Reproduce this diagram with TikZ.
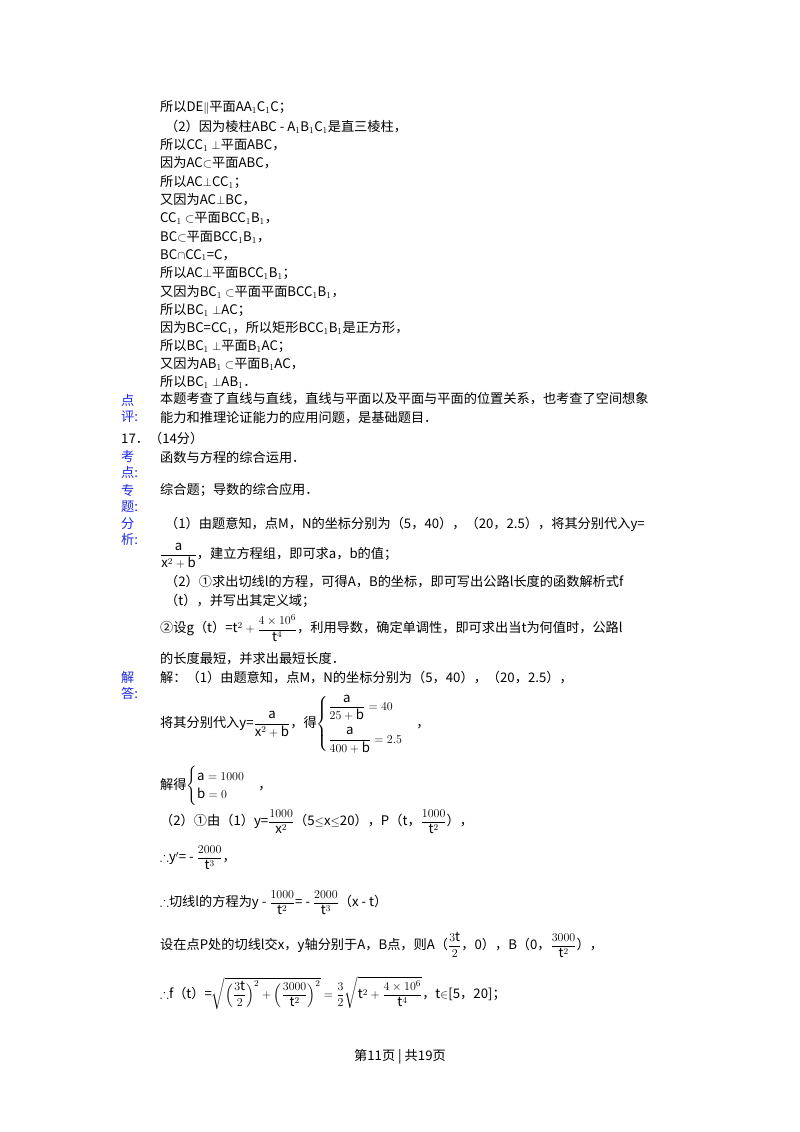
\documentclass[tikz,border=0pt]{standalone}
\usepackage{amsmath,amssymb}
\usepackage{fontspec}
\setmainfont{Noto Sans CJK SC}
\newcommand{\fs}{\fontsize{13.2}{15}\selectfont}
\begin{document}
\begin{tikzpicture}[x=1pt,y=-1pt,
 txt/.style={anchor=west,inner sep=0pt,font=\fs},
 lab/.style={txt,text={rgb,255:red,30;green,40;blue,230},align=left,font=\fontsize{13.2}{16}\selectfont}]
\useasboundingbox (0,0) rectangle (800,1132);
\node[txt] (l1) at (160,108) {所以DE$\parallel$平面AA$_1$C$_1$C；};
\node[txt] (l2) at (165,127) {（2）因为棱柱ABC - A$_1$B$_1$C$_1$是直三棱柱，};
\node[txt] (l3) at (160,145) {所以CC$_1\perp$平面ABC，};
\node[txt] (l4) at (160,163) {因为AC$\subset$平面ABC，};
\node[txt] (l5) at (160,182) {所以AC$\perp$CC$_1$；};
\node[txt] (l6) at (160,200) {又因为AC$\perp$BC，};
\node[txt] (l7) at (160,218) {CC$_1\subset$平面BCC$_1$B$_1$，};
\node[txt] (l8) at (160,237) {BC$\subset$平面BCC$_1$B$_1$，};
\node[txt] (l9) at (160,255) {BC$\cap$CC$_1$=C，};
\node[txt] (l10) at (160,273) {所以AC$\perp$平面BCC$_1$B$_1$；};
\node[txt] (l11) at (160,292) {又因为BC$_1\subset$平面平面BCC$_1$B$_1$，};
\node[txt] (l12) at (160,310) {所以BC$_1\perp$AC；};
\node[txt] (l13) at (160,328) {因为BC=CC$_1$，所以矩形BCC$_1$B$_1$是正方形，};
\node[txt] (l14) at (160,346) {所以BC$_1\perp$平面B$_1$AC；};
\node[txt] (l15) at (160,364) {又因为AB$_1\subset$平面B$_1$AC，};
\node[txt] (l16) at (160,382) {所以BC$_1\perp$AB$_1$．};
\node[lab] (d1) at (121,408) {点\\评:};
\node[txt] (p1) at (160,399) {本题考查了直线与直线，直线与平面以及平面与平面的位置关系，也考查了空间想象};
\node[txt] (p2) at (160,418) {能力和推理论证能力的应用问题，是基础题目．};
\node[txt] (q17) at (121,438) {17．（14分）};
\node[lab] (d2) at (121,464) {考\\点:};
\node[txt] (k1) at (160,457) {函数与方程的综合运用．};
\node[lab] (d3) at (121,498) {专\\题:};
\node[txt] (z1) at (160,490) {综合题；导数的综合应用．};
\node[lab] (d4) at (121,532) {分\\析:};
\node[txt] (f1) at (165,524) {（1）由题意知，点M，N的坐标分别为（5，40），（20，2.5），将其分别代入y=};
\node[txt] (f2) at (160,556) {$\dfrac{\mathrm{a}}{\mathrm{x}^2+\mathrm{b}}$，建立方程组，即可求a，b的值；};
\node[txt] (f3) at (165,582) {（2）①求出切线l的方程，可得A，B的坐标，即可写出公路l长度的函数解析式f};
\node[txt] (f4) at (165,601) {（t），并写出其定义域；};
\node[txt] (f5) at (160,628) {②设g（t）=t$^2+\dfrac{4\times10^6}{\mathrm{t}^4}$，利用导数，确定单调性，即可求出当t为何值时，公路l};
\node[txt] (f6) at (160,659) {的长度最短，并求出最短长度．};
\node[lab] (d5) at (121,685) {解\\答:};
\node[txt] (j1) at (160,678) {解：（1）由题意知，点M，N的坐标分别为（5，40），（20，2.5），};
\node[txt] (j2) at (160,724) {将其分别代入y=$\dfrac{\mathrm{a}}{\mathrm{x}^2+\mathrm{b}}$，得$\begin{cases}\dfrac{\mathrm{a}}{25+\mathrm{b}}=40\\[12pt]\dfrac{\mathrm{a}}{400+\mathrm{b}}=2.5\end{cases}$，};
\node[txt] (j3) at (160,786) {解得$\begin{cases}\mathrm{a}=1000\\ \mathrm{b}=0\end{cases}$，};
\node[txt] (j4) at (160,822) {（2）①由（1）y=$\dfrac{1000}{\mathrm{x}^2}$（5$\leq$x$\leq$20），P（t，$\dfrac{1000}{\mathrm{t}^2}$），};
\node[txt] (j5) at (160,858) {$\therefore$y$'$= - $\dfrac{2000}{\mathrm{t}^3}$，};
\node[txt] (j6) at (160,903) {$\therefore$切线l的方程为y - $\dfrac{1000}{\mathrm{t}^2}$= - $\dfrac{2000}{\mathrm{t}^3}$（x - t）};
\node[txt] (j7) at (160,945) {设在点P处的切线l交x，y轴分别于A，B点，则A（$\dfrac{3\mathrm{t}}{2}$，0），B（0，$\dfrac{3000}{\mathrm{t}^2}$），};
\node[txt] (j8) at (160,993) {$\therefore$f（t）=$\sqrt{\Bigl(\dfrac{3\mathrm{t}}{2}\Bigr)^2+\Bigl(\dfrac{3000}{\mathrm{t}^2}\Bigr)^2}=\dfrac{3}{2}\sqrt{\mathrm{t}^2+\dfrac{4\times10^6}{\mathrm{t}^4}}$，t$\in$[5，20]；};
\node[inner sep=0pt,font=\fs] (foot) at (400,1057) {第11页 | 共19页};
\end{tikzpicture}
\end{document}
